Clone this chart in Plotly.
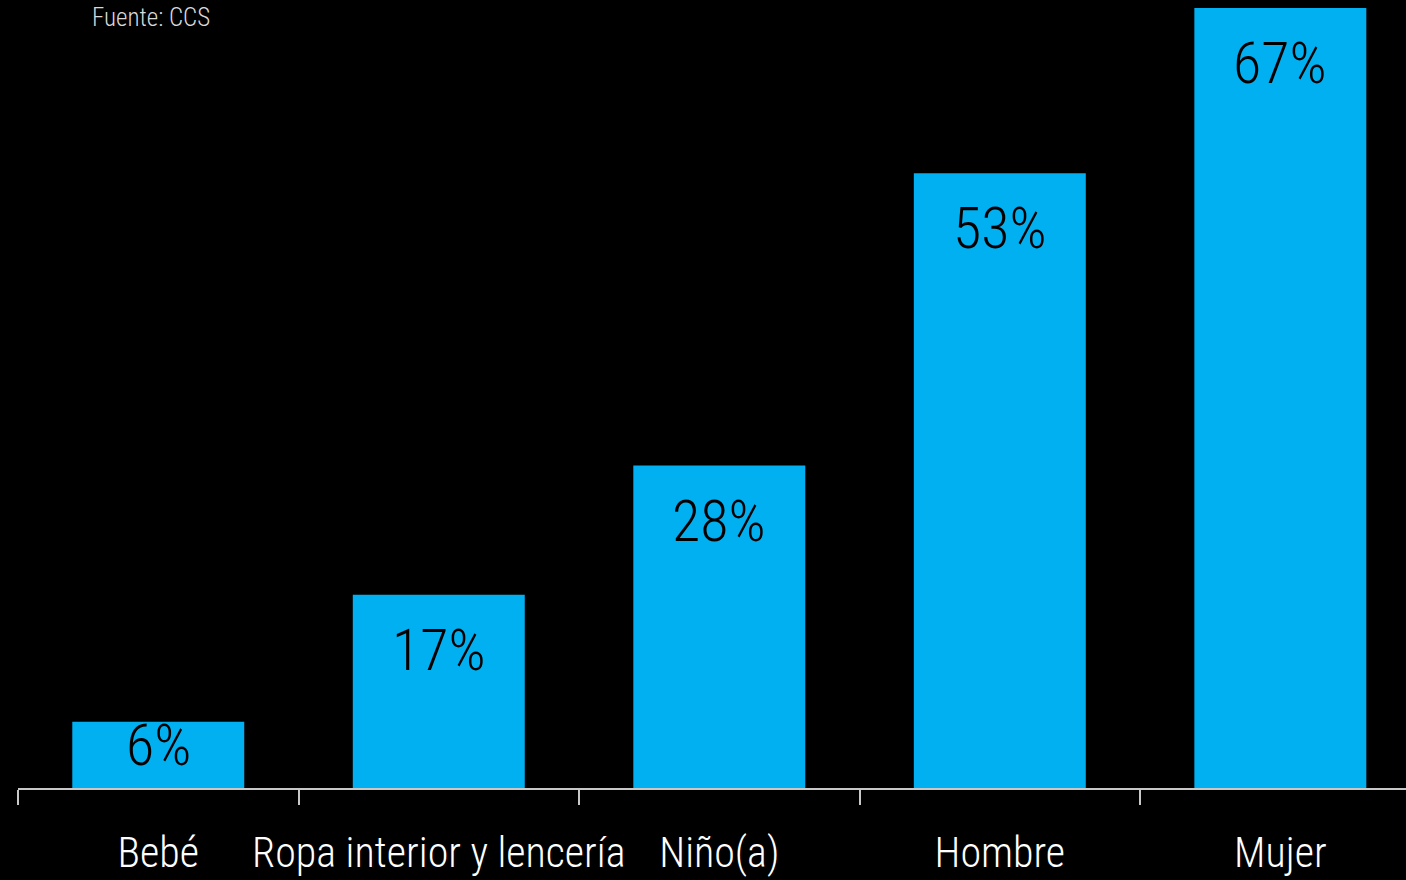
import plotly.graph_objects as go

categories = ["Bebé", "Ropa interior y lencería", "Niño(a)", "Hombre", "Mujer"]
values = [5.7, 16.6, 27.7, 52.8, 67.0]
labels = ["6%", "17%", "28%", "53%", "67%"]
source_note = "Fuente: CCS"

FONT = "Roboto Condensed, Roboto, sans-serif"

fig = go.Figure()

fig.add_trace(go.Bar(
    x=categories,
    y=values,
    width=0.613,
    marker=dict(color="#00B0F0", line=dict(width=0)),
    hoverinfo="skip",
    showlegend=False,
))

# value labels near the top of each bar (the short bar gets a smaller drop)
for cat, v, lab in zip(categories, values, labels):
    fig.add_annotation(
        x=cat, y=v, xref="x", yref="y",
        text=lab, showarrow=False,
        yanchor="middle", yshift=-23 if v < 10 else -55,
        font=dict(family=FONT, size=58, color="#000000", weight=300),
    )

# source note, top left
fig.add_annotation(
    x=0.0520, y=0.988, xref="paper", yref="paper",
    text=source_note, showarrow=False, xanchor="left", yanchor="middle",
    font=dict(family=FONT, size=25, color="#d9d9d9", weight=300),
)

fig.update_layout(
    width=1406, height=880,
    margin=dict(l=18, r=0, t=8, b=92, autoexpand=False),
    paper_bgcolor="#000000",
    plot_bgcolor="#000000",
    xaxis=dict(
        range=[-0.5, 4.448],
        tickson="boundaries",
        tickangle=0,
        ticks="outside", ticklen=15, tickwidth=1.5, tickcolor="#c8c8c8",
        showline=True, linecolor="#c8c8c8", linewidth=2,
        showgrid=False, zeroline=False,
        ticklabelstandoff=27,
        tickfont=dict(family=FONT, size=42, color="#ffffff", weight=300),
        automargin=False,
        fixedrange=True,
    ),
    yaxis=dict(
        range=[0, 67], visible=False, showgrid=False, zeroline=False,
        fixedrange=True,
    ),
)

fig.write_html(
    "out.html",
    config={"displayModeBar": False},
    post_script="document.body.style.margin='0';document.body.style.background='#000';",
)
